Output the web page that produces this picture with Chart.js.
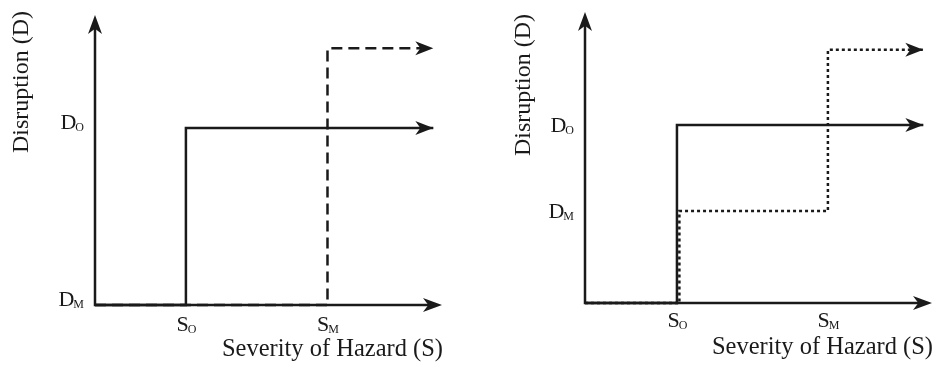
<!DOCTYPE html>
<html>
<head>
<meta charset="utf-8">
<script src="https://cdn.jsdelivr.net/npm/chart.js@4"></script>
<style>
  html, body { margin: 0; padding: 0; background: #fff; }
  .panel { position: absolute; top: 0; height: 369px; }
  #leftPanel { left: 0; width: 470px; }
  #rightPanel { left: 470px; width: 469px; }
</style>
</head>
<body>
<div class="panel" id="leftPanel"><canvas id="leftChart"></canvas></div>
<div class="panel" id="rightPanel"><canvas id="rightChart"></canvas></div>
<script>
// ─── Data (severity S on x, disruption D on y, arbitrary units 0–10) ─────────

const leftSolidS = [0, 2.62, 2.62, 9.75];
const leftSolidD = [0, 0, 6.1, 6.1];
const leftDashS = [0, 6.7, 6.7, 9.75];
const leftDashD = [0, 0, 8.85, 8.85];

const rightSolidS = [0, 2.65, 2.65, 9.75];
const rightSolidD = [0, 0, 6.12, 6.12];
const rightDotS = [0, 2.72, 2.72, 7.0, 7.0, 9.75];
const rightDotD = [0, 0, 3.16, 3.16, 8.7, 8.7];

const leftXTicks = [2.62, 6.7];
const leftYTicks = [6.1, 0];
const rightXTicks = [2.65, 7.0];
const rightYTicks = [6.12, 3.16];
const xTickLabels = [['S', 'O'], ['S', 'M']];
const yTickLabels = [['D', 'O'], ['D', 'M']];

const xTitle = 'Severity of Hazard (S)';
const yTitle = 'Disruption (D)';

const INK = '#1a1a1a';
const SERIF = '"Liberation Serif", "DejaVu Serif", serif';

const toPoints = (xs, ys) => xs.map((x, i) => ({ x, y: ys[i] }));

// ─── Drawing helpers ─────────────────────────────────────────────────────────

function arrowHead(ctx, tipX, tipY, angle, len, half) {
  ctx.save();
  ctx.translate(tipX, tipY);
  ctx.rotate(angle);
  ctx.beginPath();
  ctx.moveTo(0, 0);
  ctx.lineTo(-len, -half);
  ctx.lineTo(-len * 0.72, 0);
  ctx.lineTo(-len, half);
  ctx.closePath();
  ctx.fillStyle = INK;
  ctx.fill();
  ctx.restore();
}

/** Main letter plus small subscript, drawn at baseline y; align = 'center' | 'right'. */
function subLabel(ctx, parts, x, baseline, align) {
  ctx.save();
  ctx.fillStyle = INK;
  ctx.textBaseline = 'alphabetic';
  ctx.font = `22px ${SERIF}`;
  const w1 = ctx.measureText(parts[0]).width;
  ctx.font = `12px ${SERIF}`;
  const w2 = ctx.measureText(parts[1]).width;
  const total = w1 + w2;
  const x0 = align === 'right' ? x - total : x - total / 2;
  ctx.font = `22px ${SERIF}`;
  ctx.fillText(parts[0], x0, baseline);
  ctx.font = `12px ${SERIF}`;
  ctx.fillText(parts[1], x0 + w1 - 1, baseline + 2);
  ctx.restore();
}

// Axes with arrowheads, tick labels, titles and line-end arrows.
const diagramPlugin = {
  id: 'diagram',
  afterDatasetsDraw(chart, args, opts) {
    const { ctx, chartArea: a, scales } = chart;

    // axes
    ctx.save();
    ctx.strokeStyle = INK;
    ctx.lineWidth = 2.5;
    ctx.beginPath();
    ctx.moveTo(a.left, a.top + 10);
    ctx.lineTo(a.left, a.bottom);
    ctx.lineTo(a.right - 10, a.bottom);
    ctx.stroke();
    ctx.restore();
    arrowHead(ctx, a.left, a.top, -Math.PI / 2, 19, 7);
    arrowHead(ctx, a.right, a.bottom, 0, 19, 7);

    // line-end arrows
    chart.data.datasets.forEach((ds, i) => {
      const pts = chart.getDatasetMeta(i).data;
      const p = pts[pts.length - 1];
      const q = pts[pts.length - 2];
      arrowHead(ctx, p.x, p.y, Math.atan2(p.y - q.y, p.x - q.x), 18, 7);
    });

    // tick labels
    opts.xTicks.forEach((v, i) => {
      subLabel(ctx, xTickLabels[i], scales.x.getPixelForValue(v) + 1, a.bottom + opts.xTickDy, 'center');
    });
    opts.yTicks.forEach((v, i) => {
      subLabel(ctx, yTickLabels[i], a.left - 10, scales.y.getPixelForValue(v) + opts.yTickDy, 'right');
    });

    // titles
    ctx.save();
    ctx.fillStyle = INK;
    ctx.font = `24.5px ${SERIF}`;
    ctx.textAlign = 'right';
    ctx.textBaseline = 'alphabetic';
    ctx.fillText(xTitle, a.right + 1, a.bottom + 51);
    ctx.translate(opts.yTitleX, opts.yTitleY);
    ctx.rotate(-Math.PI / 2);
    ctx.font = `24px ${SERIF}`;
    ctx.textAlign = 'center';
    ctx.textBaseline = 'middle';
    ctx.fillText(yTitle, 0, 0);
    ctx.restore();
  },
};

function lineSet(points, dash) {
  return {
    data: points,
    borderColor: INK,
    borderWidth: 2.5,
    borderDash: dash,
    pointRadius: 0,
    tension: 0,
    fill: false,
    clip: false,
  };
}

function makeChart(id, datasets, padding, diagram) {
  return new Chart(document.getElementById(id), {
    type: 'line',
    data: { datasets },
    options: {
      responsive: true,
      maintainAspectRatio: false,
      animation: false,
      layout: { padding },
      plugins: { legend: { display: false }, tooltip: { enabled: false }, diagram },
      scales: {
        x: { type: 'linear', min: 0, max: 10, display: false },
        y: { type: 'linear', min: 0, max: 10, display: false },
      },
    },
    plugins: [diagramPlugin],
  });
}

makeChart('leftChart', [
  lineSet(toPoints(leftSolidS, leftSolidD), []),
  lineSet(toPoints(leftDashS, leftDashD), [11, 6]),
], { left: 95, right: 28, top: 15, bottom: 64 },
{ xTicks: leftXTicks, yTicks: leftYTicks, xTickDy: 26, yTickDy: 1, yTitleX: 22, yTitleY: 82 });

makeChart('rightChart', [
  lineSet(toPoints(rightSolidS, rightSolidD), []),
  lineSet(toPoints(rightDotS, rightDotD), [3, 3]),
], { left: 115, right: 7, top: 12, bottom: 66 },
{ xTicks: rightXTicks, yTicks: rightYTicks, xTickDy: 24, yTickDy: 7, yTitleX: 54, yTitleY: 85 });
</script>
</body>
</html>
